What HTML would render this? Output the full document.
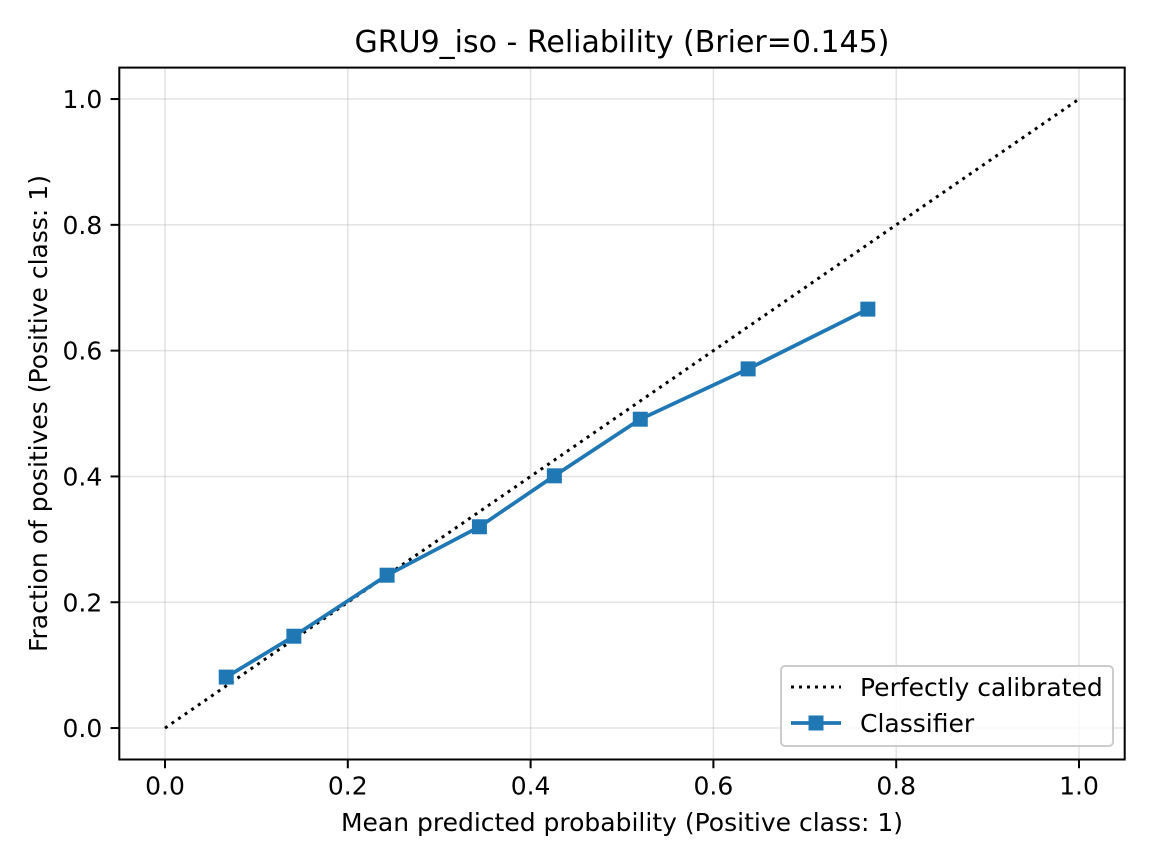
<!DOCTYPE html>
<html><head><meta charset="utf-8"><style>
html,body{margin:0;padding:0;background:#fff;}
svg{display:block;font-family:"DejaVu Sans","Liberation Sans",sans-serif;}
</style></head><body>
<svg id="chart" width="1152" height="864" viewBox="0 0 1152 864"></svg>
<script>
const xValues=[0.067,0.141,0.243,0.344,0.426,0.520,0.638,0.769];
const yValues=[0.081,0.146,0.243,0.320,0.401,0.491,0.571,0.666];
const xTicks=[0.0,0.2,0.4,0.6,0.8,1.0];
const yTicks=[0.0,0.2,0.4,0.6,0.8,1.0];
const tickLabels=["0.0","0.2","0.4","0.6","0.8","1.0"];

const L=119.3,R=1124.7,T=67.6,B=759.5;
const X=v=>L+(v+0.05)/1.1*(R-L);
const Y=v=>B-(v+0.05)/1.1*(B-T);
const svg=document.getElementById('chart');
const NS='http://www.w3.org/2000/svg';
function mk(tag,attrs,text){const e=document.createElementNS(NS,tag);for(const k in attrs)e.setAttribute(k,attrs[k]);if(text!==undefined)e.textContent=text;svg.appendChild(e);return e;}

xTicks.forEach((t,i)=>{
  const g=mk('line',{x1:X(t),x2:X(t),y1:T,y2:B,stroke:'#b0b0b0','stroke-opacity':0.35,'stroke-width':1.5});
  
  
  const tk=mk('line',{x1:X(t),x2:X(t),y1:B,y2:B+8.75,stroke:'#000','stroke-width':2});
  
  
  const tl=mk('text',{x:X(t),y:B+35,'text-anchor':'middle','font-size':25},tickLabels[i]);
  
  
});
yTicks.forEach((t,i)=>{
  const g=mk('line',{x1:L,x2:R,y1:Y(t),y2:Y(t),stroke:'#b0b0b0','stroke-opacity':0.35,'stroke-width':1.5});
  
  
  const tk=mk('line',{x1:L-8.75,x2:L,y1:Y(t),y2:Y(t),stroke:'#000','stroke-width':2});
  
  
  const tl=mk('text',{x:L-17,y:Y(t)+9,'text-anchor':'end','font-size':25},tickLabels[i]);
  
  
});

const pl=mk('line',{x1:X(0),y1:Y(0),x2:X(1),y2:Y(1),stroke:'#000','stroke-width':3,'stroke-dasharray':'3,5'});



const pts=xValues.map((v,i)=>X(v)+','+Y(yValues[i])).join(' ');
const cl=mk('polyline',{points:pts,fill:'none',stroke:'#1f77b4','stroke-width':3.75});


xValues.forEach((v,i)=>{
  const m=mk('rect',{x:X(v)-7.5,y:Y(yValues[i])-7.5,width:15,height:15,fill:'#1f77b4'});
  
  
});

const fr=mk('rect',{x:L,y:T,width:R-L,height:B-T,fill:'none',stroke:'#000','stroke-width':2});



const ti=mk('text',{x:(L+R)/2,y:52,'text-anchor':'middle','font-size':30},'GRU9_iso - Reliability (Brier=0.145)');


const xt=mk('text',{x:(L+R)/2,y:831,'text-anchor':'middle','font-size':25},'Mean predicted probability (Positive class: 1)');


const yt=mk('text',{x:47,y:(T+B)/2,'text-anchor':'middle','font-size':25,transform:'rotate(-90 47 '+((T+B)/2)+')'},'Fraction of positives (Positive class: 1)');



const lg=mk('rect',{x:781,y:666,width:332,height:80,rx:4,fill:'#fff','fill-opacity':0.8,stroke:'#ccc','stroke-width':2});


const l1=mk('line',{x1:791,x2:841,y1:687,y2:687,stroke:'#000','stroke-width':3,'stroke-dasharray':'3,5'});


const t1=mk('text',{x:860,y:696,'font-size':25},'Perfectly calibrated');


const l2=mk('line',{x1:791,x2:841,y1:723,y2:723,stroke:'#1f77b4','stroke-width':3.75});


const m2=mk('rect',{x:808.5,y:715.5,width:15,height:15,fill:'#1f77b4'});


const t2=mk('text',{x:860,y:732,'font-size':25},'Classifier');


</script>
</body></html>
